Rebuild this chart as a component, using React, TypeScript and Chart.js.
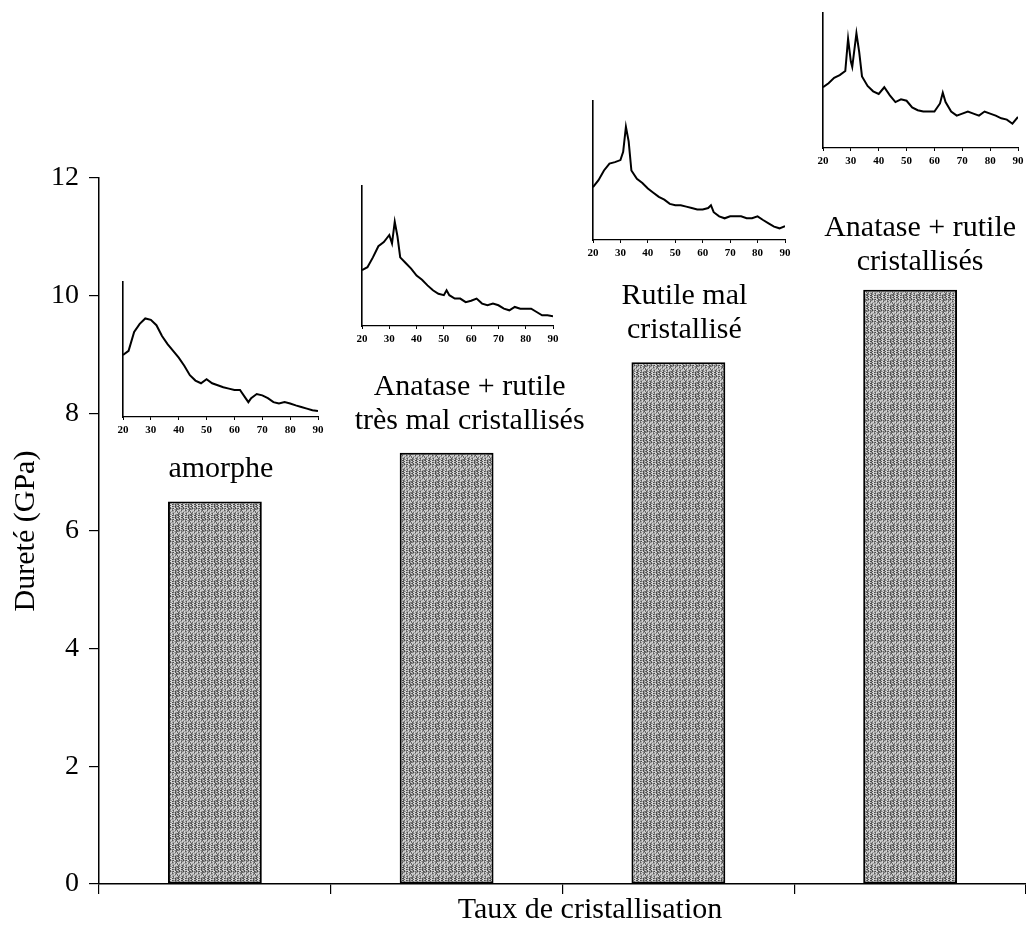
import React, { useEffect, useRef } from "react";
import { Chart, registerables } from "chart.js";

Chart.register(...registerables);

const SERIF = "'Liberation Serif', 'Times New Roman', serif";

// ---- main bar chart data ----
const categories = [
  "amorphe",
  "Anatase + rutile très mal cristallisés",
  "Rutile mal cristallisé",
  "Anatase + rutile cristallisés",
];
const categoryLines = [
  ["amorphe"],
  ["Anatase + rutile", "très mal cristallisés"],
  ["Rutile mal", "cristallisé"],
  ["Anatase + rutile", "cristallisés"],
];
const hardness = [6.5, 7.33, 8.87, 10.1];
const yMin = 0;
const yMax = 12;
const yStep = 2;
const yTitle = "Dureté (GPa)";
const xTitle = "Taux de cristallisation";

// ---- XRD inset data (2θ in degrees, relative intensity 0..1) ----
const xrdTicks = [20, 30, 40, 50, 60, 70, 80, 90];

const angles1 = [20, 22, 24, 26, 28, 30, 32, 34, 36, 38, 40, 42, 44, 46, 48, 50, 52, 54, 56, 58, 60, 62, 64, 65, 66, 68, 70, 72, 74, 76, 78, 80, 82, 84, 86, 88, 90];
const intensity1 = [0.46, 0.49, 0.63, 0.69, 0.73, 0.72, 0.68, 0.6, 0.54, 0.49, 0.44, 0.38, 0.31, 0.27, 0.25, 0.28, 0.25, 0.235, 0.22, 0.21, 0.2, 0.2, 0.14, 0.11, 0.14, 0.17, 0.16, 0.14, 0.11, 0.1, 0.11, 0.1, 0.086, 0.074, 0.062, 0.05, 0.044];

const angles2 = [20, 22, 24, 26, 28, 30, 31, 32, 33, 34, 36, 38, 40, 42, 44, 46, 48, 50, 51, 52, 54, 56, 58, 60, 62, 64, 66, 68, 70, 72, 74, 76, 78, 80, 82, 84, 86, 88, 90];
const intensity2 = [0.4, 0.42, 0.49, 0.57, 0.6, 0.65, 0.59, 0.745, 0.64, 0.49, 0.45, 0.41, 0.36, 0.33, 0.29, 0.255, 0.23, 0.22, 0.255, 0.22, 0.196, 0.196, 0.17, 0.18, 0.196, 0.16, 0.148, 0.16, 0.148, 0.124, 0.112, 0.136, 0.124, 0.124, 0.124, 0.1, 0.076, 0.076, 0.07];

const angles3 = [20, 22, 24, 26, 28, 30, 31, 32, 33, 34, 36, 38, 40, 42, 44, 46, 48, 50, 52, 54, 56, 58, 60, 62, 63, 64, 66, 68, 70, 72, 74, 76, 78, 80, 82, 84, 86, 88, 90];
const intensity3 = [0.38, 0.43, 0.5, 0.55, 0.56, 0.575, 0.635, 0.815, 0.71, 0.5, 0.44, 0.41, 0.37, 0.34, 0.31, 0.29, 0.26, 0.25, 0.25, 0.24, 0.23, 0.22, 0.22, 0.23, 0.25, 0.2, 0.17, 0.156, 0.17, 0.17, 0.17, 0.156, 0.156, 0.17, 0.144, 0.12, 0.096, 0.084, 0.1];

const angles4 = [20, 22, 24, 26, 28, 29, 30, 30.5, 32, 33, 34, 36, 38, 40, 42, 44, 46, 48, 50, 52, 54, 56, 58, 60, 62, 63, 64, 66, 68, 70, 72, 74, 76, 78, 80, 82, 84, 86, 88, 90];
const intensity4 = [0.45, 0.48, 0.52, 0.54, 0.57, 0.81, 0.64, 0.6, 0.85, 0.71, 0.53, 0.46, 0.42, 0.4, 0.45, 0.39, 0.34, 0.36, 0.35, 0.3, 0.28, 0.27, 0.27, 0.27, 0.33, 0.41, 0.34, 0.27, 0.24, 0.255, 0.27, 0.255, 0.24, 0.27, 0.255, 0.24, 0.22, 0.21, 0.18, 0.23];

const insetAngles = [angles1, angles2, angles3, angles4];
const insetIntensity = [intensity1, intensity2, intensity3, intensity4];

// ---- layout (page pixels) ----
const W = 1026;
const H = 946;
const PLOT_LEFT = 99;
const PLOT_TOP = 178;
const PLOT_BOTTOM = 884;
// inset plot boxes: left, top, right, bottom
const insetBoxes = [
  [123, 282, 318, 417],
  [362, 186, 553, 326],
  [593, 101, 785, 240],
  [823, 13, 1018, 148],
];
const labelDx = [6, 23, 6, 10];
const labelDy = [0, 0, 0, 4];

function makePattern(): CanvasPattern | string {
  const c = document.createElement("canvas");
  const tw = 13;
  const th = 11;
  c.width = tw;
  c.height = th;
  const g = c.getContext("2d");
  if (!g) return "#8f8f8f";
  for (let i = 0; i < tw; i++) {
    for (let j = 0; j < th; j++) {
      const k = (i * i * 5 + j * j * 3 + i * j * 7 + i * 3 + j) % 9;
      const v = 70 + k * 18;
      g.fillStyle = `rgb(${v},${v},${v})`;
      g.fillRect(i, j, 1, 1);
    }
  }
  const p = g.createPattern(c, "repeat");
  return p || "#8f8f8f";
}

const textPlugin = {
  id: "barTexts",
  afterDraw(chart: any) {
    const ctx = chart.ctx;
    const meta = chart.getDatasetMeta(0);
    ctx.save();
    ctx.fillStyle = "#000";
    ctx.font = `30px ${SERIF}`;
    ctx.textAlign = "center";
    ctx.textBaseline = "middle";
    meta.data.forEach((bar: any, i: number) => {
      const lines = categoryLines[i];
      const n = lines.length;
      lines.forEach((ln, k) => {
        const y = bar.y - 32 - (n - 1 - k) * 34 + labelDy[i];
        ctx.fillText(ln, bar.x + labelDx[i], y);
      });
    });
    ctx.fillText(xTitle, 590, 910);
    ctx.restore();
  },
};

function Inset({ idx }: { idx: number }) {
  const ref = useRef<HTMLCanvasElement | null>(null);
  const [l, t, r, b] = insetBoxes[idx];
  const padL = 12;
  const padR = 12;
  const padT = 4;
  const labelH = 26;
  const cw = r - l + padL + padR;
  const ch = b - t + padT + labelH;
  useEffect(() => {
    if (!ref.current) return;
    const xs = insetAngles[idx];
    const ys = insetIntensity[idx];
    const chart = new Chart(ref.current, {
      type: "line",
      data: {
        datasets: [
          {
            data: xs.map((x, i) => ({ x, y: ys[i] })),
            borderColor: "#000",
            borderWidth: 2,
            pointRadius: 0,
            tension: 0,
          },
        ],
      },
      options: {
        responsive: false,
        animation: false,
        events: [],
        layout: { padding: { left: padL, right: padR, top: padT, bottom: 0 } },
        plugins: { legend: { display: false }, tooltip: { enabled: false } },
        scales: {
          x: {
            type: "linear",
            min: 20,
            max: 90,
            afterBuildTicks: (s: any) => {
              s.ticks = xrdTicks.map((v) => ({ value: v }));
            },
            ticks: {
              color: "#000",
              font: { family: SERIF, size: 11, weight: "bold" },
              padding: 4,
              maxRotation: 0,
              autoSkip: false,
            },
            grid: { drawOnChartArea: false, tickLength: 3, color: "#000", lineWidth: 1 },
            border: { color: "#000", width: 1.2 },
            afterFit: (s: any) => {
              s.height = labelH;
            },
          },
          y: {
            min: 0,
            max: 1,
            ticks: { display: false },
            grid: { drawOnChartArea: false, drawTicks: false },
            border: { color: "#000", width: 1.6 },
            afterFit: (s: any) => {
              s.width = 0;
            },
          },
        },
      } as any,
    });
    return () => chart.destroy();
  }, [idx]);
  return (
    <canvas
      ref={ref}
      width={cw}
      height={ch}
      style={{ position: "absolute", left: l - padL, top: t - padT, width: cw, height: ch }}
    />
  );
}

export default function App() {
  const ref = useRef<HTMLCanvasElement | null>(null);
  useEffect(() => {
    if (!ref.current) return;
    const chart = new Chart(ref.current, {
      type: "bar",
      data: {
        labels: categories,
        datasets: [
          {
            data: hardness,
            backgroundColor: makePattern() as any,
            borderColor: "#000",
            borderWidth: 2,
            borderSkipped: false,
            barPercentage: 0.405,
            categoryPercentage: 1,
          },
        ],
      },
      options: {
        responsive: false,
        animation: false,
        events: [],
        layout: { padding: { left: 0, right: 0, top: PLOT_TOP, bottom: 0 } },
        plugins: { legend: { display: false }, tooltip: { enabled: false } },
        scales: {
          x: {
            ticks: { display: false },
            grid: { drawOnChartArea: false, tickLength: 10, color: "#000", lineWidth: 1.2, offset: true },
            border: { color: "#000", width: 1.5 },
            afterFit: (s: any) => {
              s.height = H - PLOT_BOTTOM;
            },
          },
          y: {
            min: yMin,
            max: yMax,
            ticks: {
              stepSize: yStep,
              color: "#000",
              font: { family: SERIF, size: 28 },
              padding: 10,
            },
            grid: { drawOnChartArea: false, tickLength: 10, color: "#000", lineWidth: 1.2 },
            border: { color: "#000", width: 1.5 },
            title: {
              display: true,
              text: yTitle,
              color: "#000",
              font: { family: SERIF, size: 30 },
              padding: { top: 8, bottom: 0 },
            },
            afterFit: (s: any) => {
              s.width = PLOT_LEFT;
            },
          },
        },
      } as any,
      plugins: [textPlugin],
    });
    return () => chart.destroy();
  }, []);
  return (
    <div style={{ position: "fixed", left: 0, top: 0, width: W, height: H, background: "#fff" }}>
      <canvas ref={ref} width={W} height={H} style={{ position: "absolute", left: 0, top: 0, width: W, height: H }} />
      {insetBoxes.map((_, i) => (
        <Inset key={i} idx={i} />
      ))}
    </div>
  );
}
